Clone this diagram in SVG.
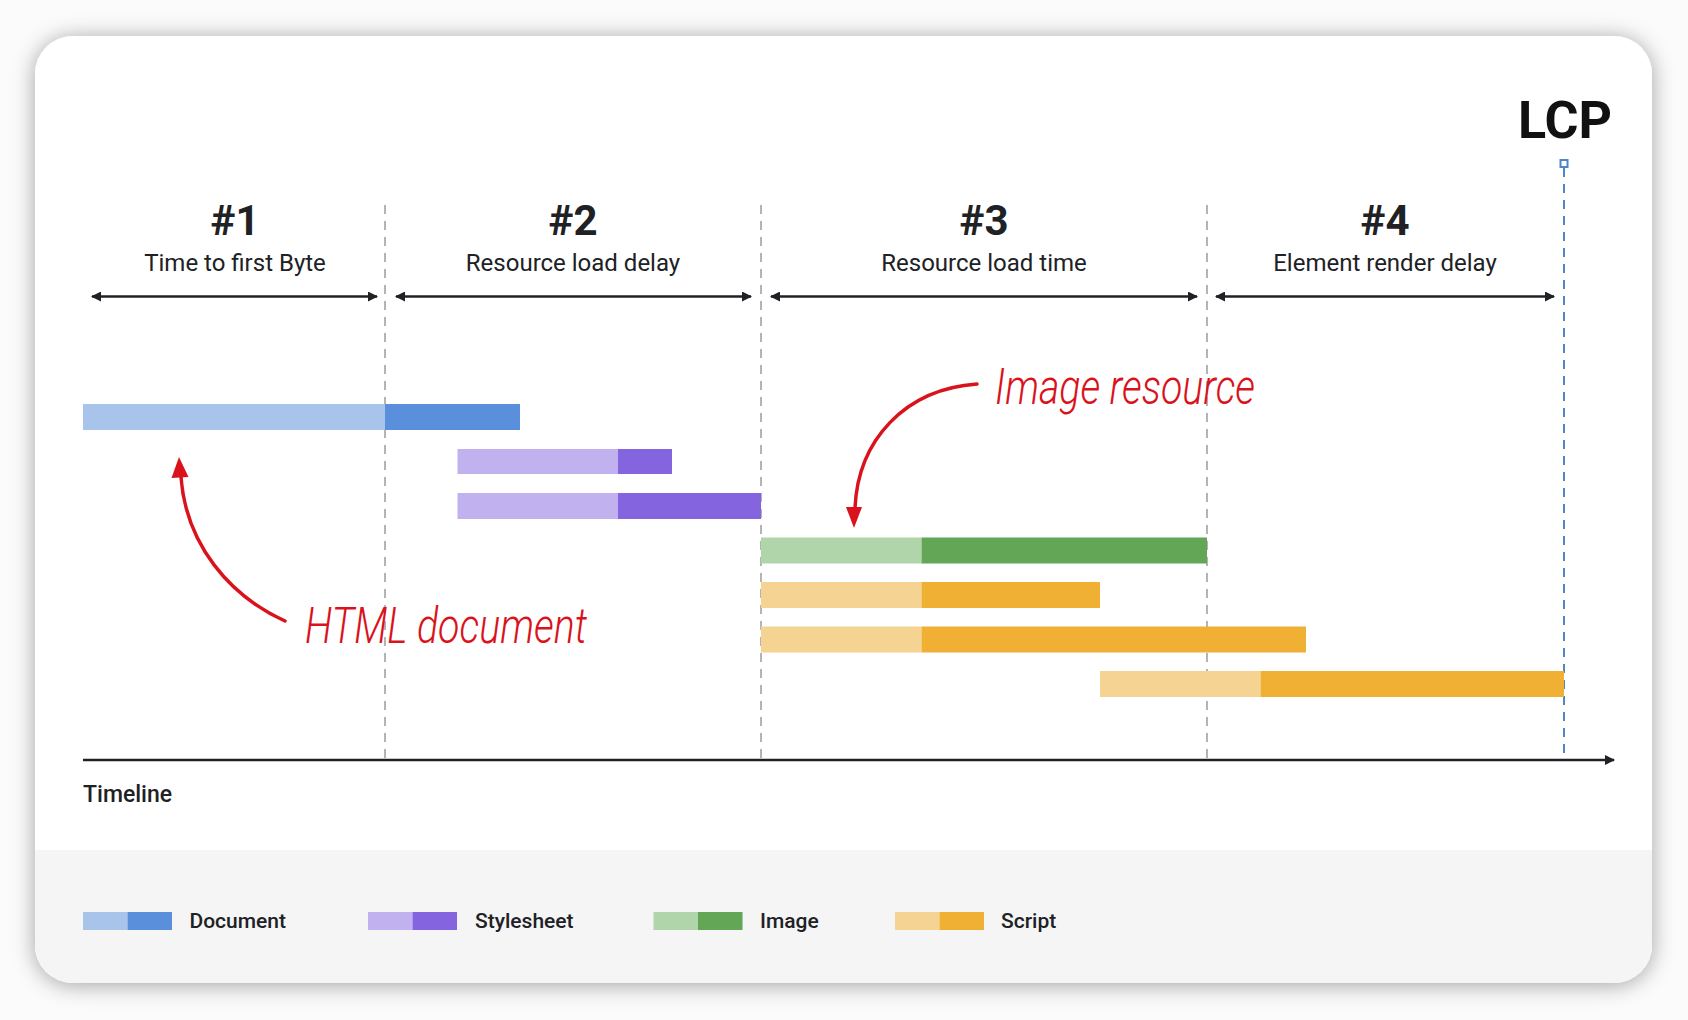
<svg xmlns="http://www.w3.org/2000/svg" width="1688" height="1020" viewBox="0 0 1688 1020">
  <defs>
    <filter id="shadow" x="-10%" y="-10%" width="120%" height="120%">
      <feDropShadow dx="0" dy="2" stdDeviation="11" flood-color="#000" flood-opacity="0.36"/>
    </filter>
    <clipPath id="cardClip">
      <rect x="35" y="36" width="1617" height="947" rx="38" ry="38"/>
    </clipPath>
    <marker id="ah" viewBox="0 0 10 10" refX="9" refY="5" markerWidth="4" markerHeight="4" orient="auto-start-reverse">
      <path d="M0,0 L10,5 L0,10 z" fill="#202124"/>
    </marker>
    <style>
      .num { font-family: Roboto, "Liberation Sans", sans-serif; font-weight: 700; font-size: 42px; fill: #202124; text-anchor: middle; }
      .lbl { font-family: Roboto, "Liberation Sans", sans-serif; font-weight: 400; font-size: 24px; fill: #202124; text-anchor: middle; }
      .leg { font-family: Roboto, "Liberation Sans", sans-serif; font-weight: 500; font-size: 21px; fill: #202124; }
      .span { stroke: #202124; stroke-width: 2.5; fill: none; }
      .div { stroke: #b4b4b4; stroke-width: 2; stroke-dasharray: 9 7; fill: none; }
      .note { font-family: Roboto, "Liberation Sans", sans-serif; font-style: italic; font-weight: 300; font-size: 50px; fill: #d9121c; }
      .red { stroke: #d9121c; stroke-width: 3.5; fill: none; stroke-linecap: round; }
      .docL { fill: #a9c4ea; } .docD { fill: #5a8fdb; }
      .cssL { fill: #c1b1ef; } .cssD { fill: #8465df; }
      .imgL { fill: #b1d5aa; } .imgD { fill: #63a656; }
      .jsL { fill: #f5d493; } .jsD { fill: #efb034; }
    </style>
  </defs>

  <rect x="0" y="0" width="1688" height="1020" fill="#fbfbfb"/>

  <g id="card">
    <rect x="35" y="36" width="1617" height="947" rx="38" ry="38" fill="#ffffff" filter="url(#shadow)"/>
    <rect x="35" y="850" width="1617" height="140" fill="#f5f5f5" clip-path="url(#cardClip)"/>
  </g>

  <g id="dividers">
    <line class="div" x1="385" y1="205" x2="385" y2="760"/>
    <line class="div" x1="761" y1="205" x2="761" y2="760"/>
    <line class="div" x1="1207" y1="205" x2="1207" y2="760"/>
  </g>

  <g id="lcp">
    <text x="1565" y="138" font-family="Roboto, 'Liberation Sans', sans-serif" font-weight="700" font-size="52" fill="#111" text-anchor="middle">LCP</text>
    <rect x="1560.5" y="160" width="7" height="7" fill="#fff" stroke="#4f86c6" stroke-width="2"/>
    <line x1="1564" y1="168" x2="1564" y2="760" stroke="#4f86c6" stroke-width="2" stroke-dasharray="9 7"/>
  </g>

  <g id="phase1">
    <text class="num" x="235" y="235">#1</text>
    <text class="lbl" x="235" y="271">Time to first Byte</text>
  </g>
  <g id="phase2">
    <text class="num" x="573" y="235">#2</text>
    <text class="lbl" x="573" y="271">Resource load delay</text>
  </g>
  <g id="phase3">
    <text class="num" x="984" y="235">#3</text>
    <text class="lbl" x="984" y="271">Resource load time</text>
  </g>
  <g id="phase4">
    <text class="num" x="1385" y="235">#4</text>
    <text class="lbl" x="1385" y="271">Element render delay</text>
  </g>

  <g id="connectors">
    <line class="span" x1="92" y1="296.5" x2="377" y2="296.5" marker-start="url(#ah)" marker-end="url(#ah)"/>
    <line class="span" x1="396" y1="296.5" x2="751" y2="296.5" marker-start="url(#ah)" marker-end="url(#ah)"/>
    <line class="span" x1="771" y1="296.5" x2="1197" y2="296.5" marker-start="url(#ah)" marker-end="url(#ah)"/>
    <line class="span" x1="1216" y1="296.5" x2="1554" y2="296.5" marker-start="url(#ah)" marker-end="url(#ah)"/>
    <line id="axis" x1="83" y1="760" x2="1614" y2="760" stroke="#202124" stroke-width="2.5" marker-end="url(#ah)"/>
    <path class="red" d="M285,621 C230,596 186,545 181,477"/>
    <polygon points="179,457 171.5,478 188.5,477" fill="#d9121c"/>
    <path class="red" d="M977,384 C905,389 858,440 855,508"/>
    <polygon points="854,528 846,507 862,507" fill="#d9121c"/>
  </g>

  <g id="bar-document">
    <rect class="docL" x="83" y="404" width="302" height="26"/>
    <rect class="docD" x="385" y="404" width="135" height="26"/>
  </g>
  <g id="bar-stylesheet-1">
    <rect class="cssL" x="457.5" y="449" width="160.5" height="25"/>
    <rect class="cssD" x="618" y="449" width="54" height="25"/>
  </g>
  <g id="bar-stylesheet-2">
    <rect class="cssL" x="457.5" y="493" width="160.5" height="26"/>
    <rect class="cssD" x="618" y="493" width="143" height="26"/>
  </g>
  <g id="bar-image">
    <rect class="imgL" x="761" y="537.5" width="160.5" height="26"/>
    <rect class="imgD" x="921.5" y="537.5" width="285.5" height="26"/>
  </g>
  <g id="bar-script-1">
    <rect class="jsL" x="761" y="582" width="160.5" height="26"/>
    <rect class="jsD" x="921.5" y="582" width="178.5" height="26"/>
  </g>
  <g id="bar-script-2">
    <rect class="jsL" x="761" y="626.5" width="160.5" height="26"/>
    <rect class="jsD" x="921.5" y="626.5" width="384.5" height="26"/>
  </g>
  <g id="bar-script-3">
    <rect class="jsL" x="1100" y="671" width="160.5" height="26"/>
    <rect class="jsD" x="1260.5" y="671" width="303.5" height="26"/>
  </g>

  <g id="note-html">
    <text class="note" x="305" y="643" textLength="282" lengthAdjust="spacingAndGlyphs">HTML document</text>
  </g>
  <g id="note-image">
    <text class="note" x="995" y="404" textLength="260" lengthAdjust="spacingAndGlyphs">Image resource</text>
  </g>

  <g id="timeline-label">
    <text x="83" y="802" font-family="Roboto, 'Liberation Sans', sans-serif" font-weight="500" font-size="23" fill="#202124">Timeline</text>
  </g>

  <g id="legend">
    <g id="legend-document">
      <rect class="docL" x="83" y="912" width="44.5" height="18"/>
      <rect class="docD" x="127.5" y="912" width="44.5" height="18"/>
      <text class="leg" x="189.5" y="928">Document</text>
    </g>
    <g id="legend-stylesheet">
      <rect class="cssL" x="368" y="912" width="44.5" height="18"/>
      <rect class="cssD" x="412.5" y="912" width="44.5" height="18"/>
      <text class="leg" x="475" y="928">Stylesheet</text>
    </g>
    <g id="legend-image">
      <rect class="imgL" x="653.5" y="912" width="44.5" height="18"/>
      <rect class="imgD" x="698" y="912" width="44.5" height="18"/>
      <text class="leg" x="760" y="928">Image</text>
    </g>
    <g id="legend-script">
      <rect class="jsL" x="895" y="912" width="44.5" height="18"/>
      <rect class="jsD" x="939.5" y="912" width="44.5" height="18"/>
      <text class="leg" x="1001" y="928">Script</text>
    </g>
  </g>
</svg>
